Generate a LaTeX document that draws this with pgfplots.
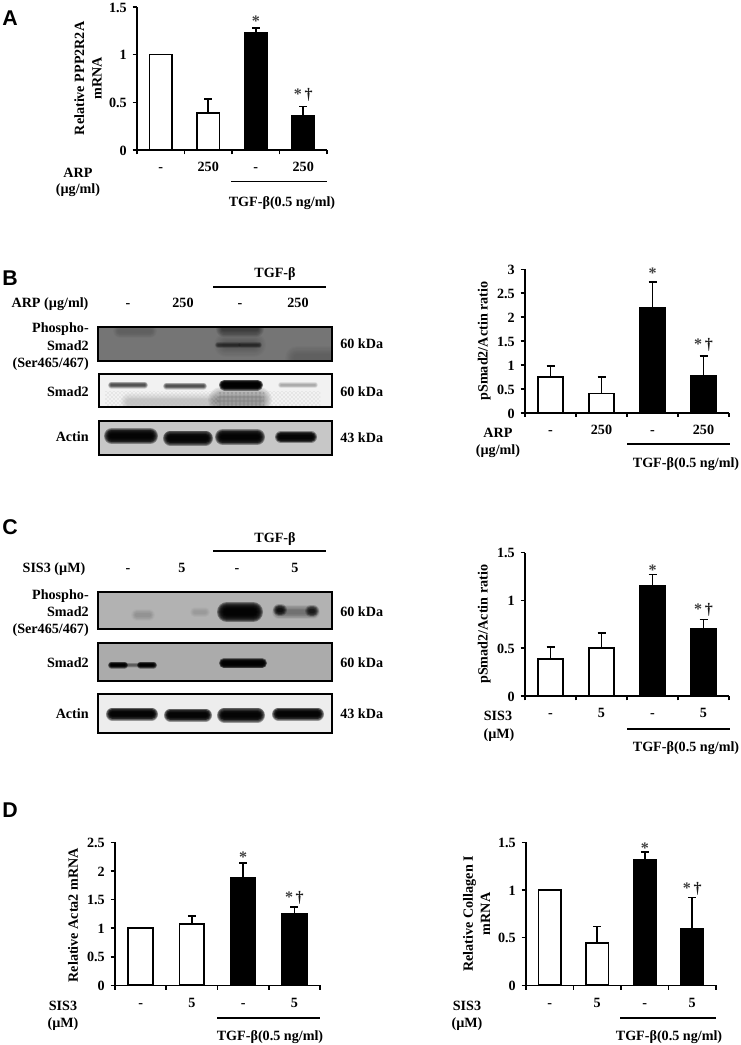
\documentclass[border=0pt]{standalone}
\usepackage{fontspec}
\setmainfont{Liberation Serif}
\newfontfamily\lettersf{Liberation Sans}
\usepackage{pgfplots}
\usetikzlibrary{patterns}
\pgfplotsset{compat=1.18}
\pgfplotsset{
  panel/.style={
    scale only axis, anchor=origin, clip=false,
    axis lines=left, axis line style={-, line width=1.2pt, black},
    xmin=0.5, xmax=4.5, ymin=0,
    tick align=outside, major tick length=3.2pt,
    every tick/.style={black, line width=1.2pt},
    xtick={0.5,1.5,2.5,3.5,4.5}, xticklabels={,,,,,},
    extra x ticks={1,2,3,4},
    extra x tick style={major tick length=0pt,
       xticklabel style={anchor=mid, yshift=-14pt}},
    yticklabel style={xshift=-1pt, yshift=-0.5pt},
    /pgf/number format/assume math mode=true,
    y label style={anchor=center, align=center},
  },
  wbar/.style={ybar, bar shift=0pt, draw=black, fill=white, line width=1.3pt,
    error bars/.cd, y dir=plus, y explicit,
    error bar style={line width=1.2pt, black},
    error mark options={black, line width=1.2pt, mark size=3pt, rotate=90}},
  bbar/.style={ybar, bar shift=0pt, draw=black, fill=black, line width=1.3pt,
    error bars/.cd, y dir=plus, y explicit,
    error bar style={line width=1.2pt, black},
    error mark options={black, line width=1.2pt, mark size=3pt, rotate=90}},
}
\newcommand\sig[2]{\node[font=\fontsize{12}{13}\selectfont\bfseries, text=black!75, inner sep=0pt, anchor=center, yshift=-1.5pt] at (axis cs:#1,#2) {*};}
\newcommand\sigd[2]{\node[font=\fontsize{12}{13}\selectfont\bfseries, text=black!75, inner sep=0pt, anchor=center, yshift=-1.5pt] at (axis cs:#1,#2) {*\,\textcolor{black!90}{†}};}
\newcommand\T[3]{\node[anchor=mid, inner sep=0pt, yshift=-0.8pt] at (#1,#2) {#3};}
\newcommand\TR[3]{\node[anchor=mid east, inner sep=0pt, yshift=-0.8pt] at (#1,#2) {#3};}
\newcommand\TL[3]{\node[anchor=mid west, inner sep=0pt, yshift=-0.8pt] at (#1,#2) {#3};}
\newcommand\letter[3]{\node[font=\fontsize{16}{18}\selectfont\lettersf\bfseries, anchor=mid, inner sep=0pt, yshift=-2.2pt] at (#1,#2) {#3};}
% soft blot band: cx cy half-width half-height layer-opacity
\newcommand\band[5]{\foreach \f in {1,0.9,0.8,0.7,0.6,0.5,0.4,0.3}{%
  \draw[black,opacity=#5,line cap=round,line width={2*#4*\f*0.75pt}] ({#1-#3+#4},#2) -- ({#1+#3-#4},#2);}}
\newcommand\blotframe[4]{\draw[black, line width=1.3pt] (#1,#2) rectangle (#3,#4);}
\begin{document}
\begin{tikzpicture}[font=\fontsize{10.6}{13}\selectfont\bfseries]
\useasboundingbox (0,0) rectangle (555pt,-783.75pt);

% ---------- A
\begin{axis}[panel, at={(137*0.75pt,-150*0.75pt)}, width=142.5pt, height=107.3pt,
  ymax=1.5, ytick={0,0.5,1,1.5}, bar width=16.8pt, extra x tick labels={-,250,-,250},
  ylabel={Relative PPP2R2A\\mRNA}, y label style={at={(axis description cs:-0.258,0.5)}}]
\addplot[wbar] table[x=x,y=y,y error=e] {
x y e
1 1.00 0
2 0.385 0.15
};
\addplot[bbar] table[x=x,y=y,y error=e] {
x y e
3 1.228 0.05
4 0.36 0.095
};
\sig{3}{1.37}
\sigd{4}{0.60}
\end{axis}

% ---------- B chart
\begin{axis}[panel, at={(525*0.75pt,-412.7*0.75pt)}, width=153pt, height=107.5pt,
  ymax=3, ytick={0,0.5,1,1.5,2,2.5,3}, bar width=18.7pt, extra x tick labels={-,250,-,250},
  ylabel={pSmad2/Actin ratio}, y label style={at={(axis description cs:-0.2,0.5)}}]
\addplot[wbar] table[x=x,y=y,y error=e] {
x y e
1 0.754 0.226
2 0.40 0.347
};
\addplot[bbar] table[x=x,y=y,y error=e] {
x y e
3 2.19 0.54
4 0.768 0.418
};
\sig{3}{2.97}
\sigd{4}{1.46}
\end{axis}

% ---------- C chart
\begin{axis}[panel, at={(525*0.75pt,-696*0.75pt)}, width=153pt, height=107.5pt,
  ymax=1.5, ytick={0,0.5,1,1.5}, bar width=18.7pt, extra x tick labels={-,5,-,5},
  ylabel={pSmad2/Actin ratio}, y label style={at={(axis description cs:-0.2,0.5)}}]
\addplot[wbar] table[x=x,y=y,y error=e] {
x y e
1 0.387 0.126
2 0.502 0.157
};
\addplot[bbar] table[x=x,y=y,y error=e] {
x y e
3 1.155 0.118
4 0.705 0.095
};
\sig{3}{1.34}
\sigd{4}{0.92}
\end{axis}

% ---------- D left
\begin{axis}[panel, at={(115*0.75pt,-985.3*0.75pt)}, width=153.75pt, height=107.25pt,
  ymax=2.5, ytick={0,0.5,1,1.5,2,2.5}, bar width=18.7pt, extra x tick labels={-,5,-,5},
  ylabel={Relative Acta2 mRNA}, y label style={at={(axis description cs:-0.205,0.49)}}]
\addplot[wbar] table[x=x,y=y,y error=e] {
x y e
1 1.00 0
2 1.07 0.14
};
\addplot[bbar] table[x=x,y=y,y error=e] {
x y e
3 1.88 0.26
4 1.25 0.12
};
\sig{3}{2.28}
\sigd{4}{1.57}
\end{axis}

% ---------- D right
\begin{axis}[panel, at={(526*0.75pt,-985.3*0.75pt)}, width=142.5pt, height=107.25pt,
  ymax=1.5, ytick={0,0.5,1,1.5}, bar width=16.8pt, extra x tick labels={-,5,-,5},
  ylabel={Relative Collagen I\\mRNA}, y label style={at={(axis description cs:-0.26,0.5)}}]
\addplot[wbar] table[x=x,y=y,y error=e] {
x y e
1 1.00 0
2 0.44 0.175
};
\addplot[bbar] table[x=x,y=y,y error=e] {
x y e
3 1.315 0.085
4 0.587 0.333
};
\sig{3}{1.46}
\sigd{4}{1.03}
\end{axis}

\begin{scope}[x=0.75pt,y=-0.75pt]
\letter{10}{20}{A}
\letter{10}{280}{B}
\letter{10}{529}{C}
\letter{10}{811}{D}

% A annotations
\T{78}{173}{ARP}\T{78}{189}{(µg/ml)}
\draw[line width=1.1pt] (231,181.5) -- (327,181.5);
\T{282}{202}{TGF-β(0.5 ng/ml)}

% B chart annotations
\T{498}{433}{ARP}\T{498}{450}{(µg/ml)}
\draw[line width=1.1pt] (627,444) -- (730,444);
\T{686}{463}{TGF-β(0.5 ng/ml)}
% C chart annotations
\T{498}{716}{SIS3}\T{499}{734}{(µM)}
\draw[line width=1.1pt] (627,729) -- (730,729);
\T{686}{747}{TGF-β(0.5 ng/ml)}
% D annotations
\T{63}{1006}{SIS3}\T{63}{1023}{(µM)}
\draw[line width=1.1pt] (217,1018) -- (320,1018);
\T{270}{1036}{TGF-β(0.5 ng/ml)}
\T{467}{1006}{SIS3}\T{467}{1023}{(µM)}
\draw[line width=1.1pt] (620,1018) -- (716,1018);
\T{669}{1036}{TGF-β(0.5 ng/ml)}

% ---------- B blots
\T{275}{273}{TGF-β}
\draw[line width=1.3pt] (213,287) -- (326,287);
\T{50}{303}{ARP (µg/ml)}\T{128}{303}{-}\T{183}{303}{250}\T{240}{303}{-}\T{298}{303}{250}
\TR{89}{328}{Phospho-}\TR{89}{346}{Smad2}\TR{89}{363}{(Ser465/467)}
\TR{89}{392}{Smad2}\TR{89}{437}{Actin}
\TL{340}{344}{60 kDa}\TL{340}{392}{60 kDa}\TL{340}{438}{43 kDa}
\begin{scope}
\clip (98,327) rectangle (332,361);
\fill[black!54] (98,327) rectangle (332,361);
\band{135}{331}{22}{7}{0.02}
\band{240}{329}{24}{8}{0.07}
\band{240}{345}{26}{12}{0.025}
\band{228}{345}{13}{3}{0.09}\band{250}{345}{12}{3}{0.09}
\band{315}{358}{30}{12}{0.02}
\end{scope}
\blotframe{98}{327}{332}{361}
\begin{scope}
\clip (99,374) rectangle (332,407);
\fill[black!5] (99,374) rectangle (332,407);
\band{240}{400}{32}{13}{0.06}
\band{170}{402}{50}{9}{0.025}
\fill[pattern=crosshatch dots, pattern color=black!25] (105,391) rectangle (320,407);
\fill[pattern=dots, pattern color=black!65] (218,390) rectangle (264,407);
\band{128}{385}{20}{3.5}{0.12}
\band{185}{386}{22}{3.5}{0.12}
\band{241}{385}{22}{5.5}{0.45}
\band{298}{385}{20}{3}{0.04}
\end{scope}
\blotframe{99}{374}{332}{407}
\begin{scope}
\clip (99,421) rectangle (332,455);
\fill[black!22] (99,421) rectangle (332,455);
\band{131}{436}{27}{8}{0.36}
\band{188}{438}{25}{7.5}{0.36}
\band{240}{437}{25}{8}{0.36}
\band{296}{437}{21}{6}{0.36}
\end{scope}
\blotframe{99}{421}{332}{455}

% ---------- C blots
\T{275}{538}{TGF-β}
\draw[line width=1.3pt] (213,551) -- (326,551);
\T{54}{568}{SIS3 (µM)}\T{128}{568}{-}\T{182}{568}{5}\T{237}{568}{-}\T{295}{568}{5}
\TR{89}{595}{Phospho-}\TR{89}{612}{Smad2}\TR{89}{629}{(Ser465/467)}
\TR{89}{663}{Smad2}\TR{89}{714}{Actin}
\TL{340}{612}{60 kDa}\TL{340}{663}{60 kDa}\TL{340}{714}{43 kDa}
\begin{scope}
\clip (98,592) rectangle (332,629);
\fill[black!30] (98,592) rectangle (332,629);
\band{143}{615}{12}{6}{0.02}
\band{200}{612}{10}{5}{0.015}
\band{240}{612}{23}{10}{0.38}
\band{280}{610}{7}{6}{0.2}\band{312}{611}{7}{6}{0.16}
\band{296}{612}{24}{7}{0.05}
\end{scope}
\blotframe{98}{592}{332}{629}
\begin{scope}
\clip (98,643) rectangle (332,681);
\fill[black!33] (98,643) rectangle (332,681);
\band{118}{665}{10}{3.5}{0.3}\band{147}{665}{10}{3.5}{0.3}
\band{132}{665}{22}{2.5}{0.07}
\band{243}{663}{24}{5}{0.42}
\end{scope}
\blotframe{98}{643}{332}{681}
\begin{scope}
\clip (98,694) rectangle (332,733);
\fill[black!7] (98,694) rectangle (332,733);
\band{132}{714}{26}{6.5}{0.36}
\band{188}{715}{24}{6.5}{0.36}
\band{241}{715}{24}{7.5}{0.36}
\band{298}{714}{26}{6.5}{0.36}
\end{scope}
\blotframe{98}{694}{332}{733}
\end{scope}
\end{tikzpicture}
\end{document}
